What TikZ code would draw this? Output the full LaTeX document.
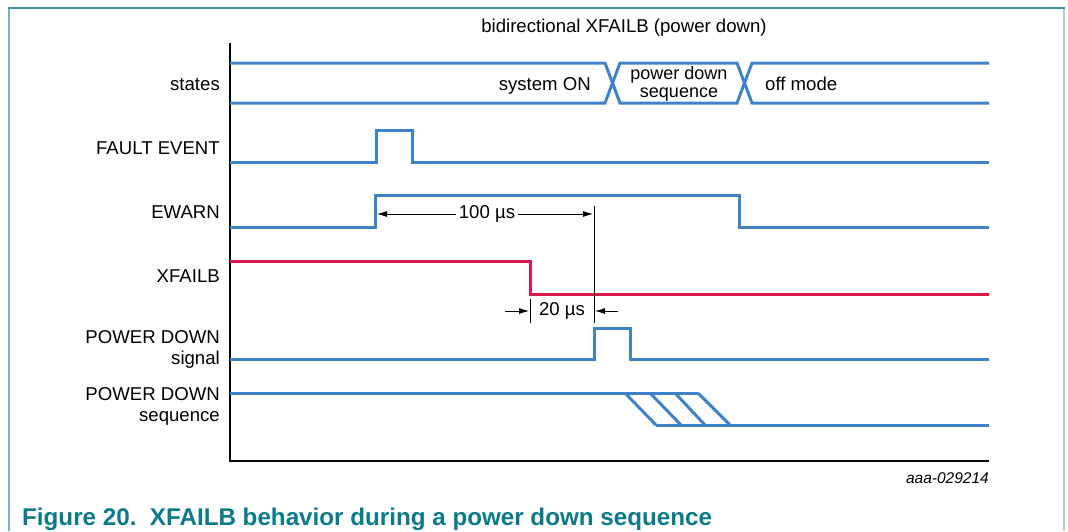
\documentclass[tikz,border=0pt]{standalone}
\usepackage{fontspec}
\setmainfont{Liberation Sans}
\usetikzlibrary{arrows.meta}
\definecolor{sig}{RGB}{62,130,202}
\definecolor{xred}{RGB}{222,24,78}
\definecolor{frametop}{RGB}{58,146,158}
\definecolor{frameside}{RGB}{120,180,190}
\definecolor{frameright}{RGB}{165,208,214}
\definecolor{captc}{RGB}{10,122,140}
\tikzset{
  sigline/.style={sig, line width=3pt},
  redline/.style={xred, line width=3pt},
  axisline/.style={black, line width=1.4pt},
  dimline/.style={black, line width=0.9pt},
  dimarrow/.style={dimline, -{Latex[length=10pt,width=6pt]}},
  lbl/.style={font=\fontsize{18.6}{21}\selectfont, inner sep=0pt},
  dimlbl/.style={font=\fontsize{18.6}{21}\selectfont, inner sep=3pt},
}
\begin{document}
\begin{tikzpicture}[x=1pt,y=-1pt]
\useasboundingbox (0,0) rectangle (1068,531);
% frame
\draw[frameside, line width=1.5pt] (9,8) -- (9,531);
\draw[frameright, line width=1.5pt] (1064,8) -- (1064,531);
\draw[frametop, line width=2pt] (8,8) -- (1065,8);

% title
\node[lbl, anchor=base] (title) at (624,32) {bidirectional XFAILB (power down)};

% labels
\node[lbl, anchor=base east] (lstates) at (220,90) {states};
\node[lbl, anchor=base east] (lfault) at (220,154) {FAULT EVENT};
\node[lbl, anchor=base east] (lewarn) at (220,218) {EWARN};
\node[lbl, anchor=base east] (lxfail) at (220,282) {XFAILB};
\node[lbl, anchor=base east] (lpds1) at (220,343) {POWER DOWN};
\node[lbl, anchor=base east] (lpds2) at (220,364) {signal};
\node[lbl, anchor=base east] (lpdq1) at (220,400) {POWER DOWN};
\node[lbl, anchor=base east] (lpdq2) at (220,421) {sequence};

% axes
\draw[axisline] (230,43) -- (230,461) -- (989,461);

% states
\draw[sigline] (230,63) -- (605,63) -- (620,103) -- (737,103) -- (752,63) -- (989,63);
\draw[sigline] (230,103) -- (605,103) -- (620,63) -- (737,63) -- (752,103) -- (989,103);
\node[lbl, anchor=base east] (son) at (591,90) {system ON};
\node[font=\fontsize{18}{20}\selectfont, inner sep=0pt, anchor=base] (pds1) at (679,79) {power down};
\node[font=\fontsize{18}{20}\selectfont, inner sep=0pt, anchor=base] (pds2) at (679,97) {sequence};
\node[lbl, anchor=base west] (off) at (765,90) {off mode};

% fault event
\draw[sigline] (230,162) -- (376,162) -- (376,130) -- (412,130) -- (412,162) -- (989,162);
% ewarn
\draw[sigline] (230,227) -- (375,227) -- (375,195) -- (739,195) -- (739,227) -- (989,227);
% xfailb
\draw[redline] (230,261) -- (530,261) -- (530,294) -- (989,294);
% power down signal
\draw[sigline] (230,359) -- (594,359) -- (594,328) -- (630,328) -- (630,359) -- (989,359);
% power down sequence
\draw[sigline] (230,393) -- (698,393);
\draw[sigline] (656,425) -- (989,425);
\draw[sigline] (625,393) -- (656,425);
\draw[sigline] (650,393) -- (681,425);
\draw[sigline] (675,393) -- (705,425);
\draw[sigline] (698,393) -- (730,425);

% dimension marks
\draw[dimline] (594,206) -- (594,323);
\draw[dimline] (530,299) -- (530,323);
\coordinate (a100L) at (377,214);
\coordinate (a100R) at (593,214);
\node[dimlbl, anchor=center] (t100) at (487,214) {100 µs};
\draw[dimarrow] (t100.west) -- (a100L);
\draw[dimarrow] (t100.east) -- (a100R);

\coordinate (a20Ls) at (505,311);
\coordinate (a20Le) at (529,311);
\coordinate (a20Rs) at (618,311);
\coordinate (a20Re) at (595,311);
\node[dimlbl, anchor=center] (t20) at (562,311) {20 µs};
\draw[dimarrow] (a20Ls) -- (a20Le);
\draw[dimarrow] (a20Rs) -- (a20Re);

% id
\node[font=\fontsize{15.5}{18}\selectfont\itshape, inner sep=0pt, anchor=base east] (idtag) at (989,483) {aaa-029214};

% caption
\node[font=\fontsize{24.2}{28}\selectfont\bfseries, text=captc, inner sep=0pt, anchor=base west] (caption) at (22,525) {Figure 20.\ \ XFAILB behavior during a power down sequence};
\end{tikzpicture}
\end{document}
